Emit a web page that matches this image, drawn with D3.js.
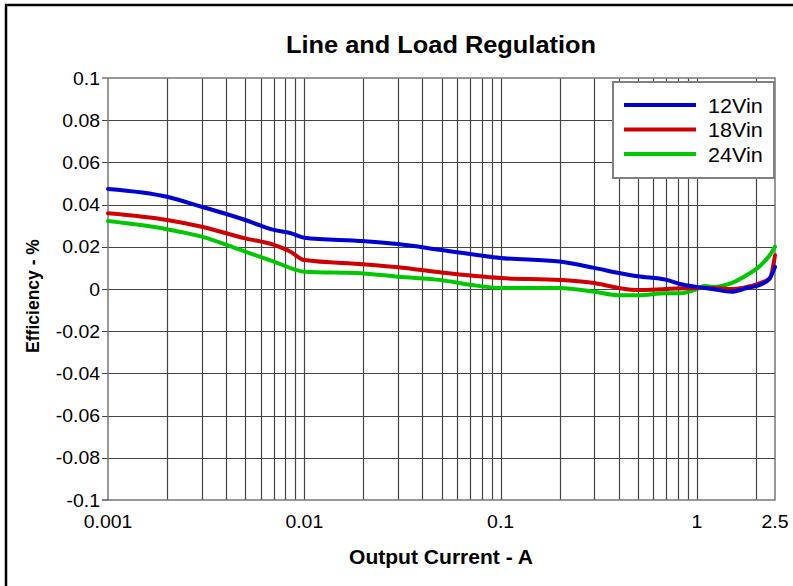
<!DOCTYPE html>
<html>
<head>
<meta charset="utf-8">
<script src="https://cdn.jsdelivr.net/npm/d3@7"></script>
<style>
  html, body { margin: 0; padding: 0; background: #fff; }
  svg { display: block; font-family: "Liberation Sans", Arial, sans-serif; }
</style>
</head>
<body>
<svg id="chart" width="793" height="586"></svg>
<script>
// ---- data ----
const seriesNames = ["12Vin", "18Vin", "24Vin"];
const seriesColors = ["#0000d0", "#d00000", "#00c800"];

const current12 = [0.001, 0.002, 0.003, 0.005, 0.006, 0.007, 0.0085, 0.01, 0.02, 0.03, 0.05, 0.1, 0.2, 0.3, 0.4, 0.5, 0.7, 0.82, 1.0, 1.2, 1.5, 1.8, 2.1, 2.35, 2.5];
const eff12     = [0.0474, 0.0437, 0.039, 0.0327, 0.030, 0.028, 0.0265, 0.0243, 0.0227, 0.0213, 0.0185, 0.0147, 0.013, 0.010, 0.0076, 0.006, 0.0043, 0.0024, 0.001, 0.0, -0.0013, 0.0005, 0.002, 0.005, 0.0105];

const current18 = [0.001, 0.002, 0.003, 0.005, 0.007, 0.0085, 0.01, 0.02, 0.03, 0.05, 0.1, 0.2, 0.3, 0.4, 0.5, 0.7, 1.0, 1.2, 1.5, 1.8, 2.1, 2.35, 2.5];
const eff18     = [0.0359, 0.0327, 0.0295, 0.024, 0.0209, 0.0177, 0.0137, 0.0117, 0.0103, 0.0078, 0.0052, 0.0043, 0.0028, 0.0005, -0.0005, 0.0, 0.0005, 0.0005, 0.0, 0.001, 0.0028, 0.005, 0.016];

const current24 = [0.001, 0.002, 0.003, 0.005, 0.007, 0.01, 0.02, 0.03, 0.05, 0.07, 0.1, 0.2, 0.3, 0.4, 0.5, 0.7, 0.82, 1.0, 1.1, 1.2, 1.5, 1.8, 2.1, 2.35, 2.5];
const eff24     = [0.0322, 0.0283, 0.0248, 0.0177, 0.013, 0.0082, 0.0074, 0.0058, 0.0042, 0.002, 0.0005, 0.0005, -0.0013, -0.003, -0.003, -0.002, -0.002, 0.0, 0.0015, 0.001, 0.0028, 0.0066, 0.011, 0.016, 0.020];

const xTickValues = [0.001, 0.01, 0.1, 1, 2.5];
const xTickLabels = ["0.001", "0.01", "0.1", "1", "2.5"];
const yTickValues = [0.1, 0.08, 0.06, 0.04, 0.02, 0, -0.02, -0.04, -0.06, -0.08, -0.1];
const yTickLabels = ["0.1", "0.08", "0.06", "0.04", "0.02", "0", "-0.02", "-0.04", "-0.06", "-0.08", "-0.1"];

const titleText = "Line and Load Regulation";
const xLabel = "Output Current - A";
const yLabel = "Efficiency - %";

// ---- layout ----
const svg = d3.select("#chart");
const L = 108, R = 775, T = 78, B = 500;
const SX = 1.08; // slight horizontal stretch of text seen in reference

const x = d3.scaleLog().domain([0.001, 2.5]).range([L, R]);
const y = d3.scaleLinear().domain([-0.1, 0.1]).range([B, T]);

function addText(parent, tx, ty, str, size, weight, anchor) {
  parent.append("g").attr("transform", `translate(${tx},${ty}) scale(${SX},1)`)
    .append("text").attr("x", 0).attr("y", 0)
    .attr("text-anchor", anchor).attr("font-size", size).attr("font-weight", weight)
    .attr("fill", "#000").text(str);
}

// outer frame (extends beyond right/bottom)
svg.append("rect").attr("x", 6).attr("y", 5).attr("width", 820).attr("height", 620)
  .attr("fill", "none").attr("stroke", "#000").attr("stroke-width", 2.5);

// vertical grid lines: every 1..9 x 10^k inside range
const vGrid = [];
for (let e = -3; e <= 0; e++) {
  for (let m = 1; m <= 9; m++) {
    const v = m * Math.pow(10, e);
    if (v > 0.001 && v < 2.5) vGrid.push(v);
  }
}
const g = svg.append("g");
g.selectAll("line.vg").data(vGrid).enter().append("line")
  .attr("x1", d => Math.round(x(d)) + 0.5).attr("x2", d => Math.round(x(d)) + 0.5)
  .attr("y1", T).attr("y2", B)
  .attr("stroke", "#444").attr("stroke-width", 1.2);

// horizontal grid lines with small outer ticks
g.selectAll("line.hg").data(yTickValues.filter(d => d !== 0.1 && d !== -0.1)).enter().append("line")
  .attr("x1", L - 6).attr("x2", R)
  .attr("y1", d => Math.round(y(d)) + 0.5).attr("y2", d => Math.round(y(d)) + 0.5)
  .attr("stroke", "#444").attr("stroke-width", 1.2);

// plot frame
svg.append("rect").attr("x", L).attr("y", T).attr("width", R - L).attr("height", B - T)
  .attr("fill", "none").attr("stroke", "#777").attr("stroke-width", 1.5);
svg.append("line").attr("x1", L - 6).attr("x2", L).attr("y1", T).attr("y2", T).attr("stroke", "#777").attr("stroke-width", 1.5);
svg.append("line").attr("x1", L - 6).attr("x2", L).attr("y1", B).attr("y2", B).attr("stroke", "#555").attr("stroke-width", 1.5);

// y tick labels
yTickValues.forEach((d, i) => addText(svg, 100, y(d) + 6.5, yTickLabels[i], 18, "normal", "end"));
// x tick labels
xTickValues.forEach((d, i) => addText(svg, x(d), 528, xTickLabels[i], 18, "normal", "middle"));

// title & axis labels
addText(svg, 441, 53, titleText, 23.5, "bold", "middle");
addText(svg, 441, 564, xLabel, 19.5, "bold", "middle");
svg.append("text").attr("transform", "translate(39,296) rotate(-90)").attr("text-anchor", "middle")
  .attr("font-size", 17.5).attr("font-weight", "bold").text(yLabel);

// series
const seriesData = [
  current12.map((c, i) => [c, eff12[i]]),
  current18.map((c, i) => [c, eff18[i]]),
  current24.map((c, i) => [c, eff24[i]])
];
const line = d3.line().x(d => x(d[0])).y(d => y(d[1])).curve(d3.curveMonotoneX);
[2, 1, 0].forEach(i => {
  svg.append("path").attr("d", line(seriesData[i]))
    .attr("fill", "none").attr("stroke", seriesColors[i]).attr("stroke-width", 4)
    .attr("stroke-linejoin", "round").attr("stroke-linecap", "round");
});

// legend
const lg = svg.append("g");
lg.append("rect").attr("x", 613).attr("y", 82).attr("width", 161).attr("height", 96)
  .attr("fill", "#fff").attr("stroke", "#808080").attr("stroke-width", 2);
seriesNames.forEach((name, i) => {
  const yy = 105 + i * 24.5;
  lg.append("line").attr("x1", 624).attr("x2", 696).attr("y1", yy).attr("y2", yy)
    .attr("stroke", seriesColors[i]).attr("stroke-width", 4);
  addText(lg, 708, yy + 7.5, name, 20, "normal", "start");
});
</script>
</body>
</html>
